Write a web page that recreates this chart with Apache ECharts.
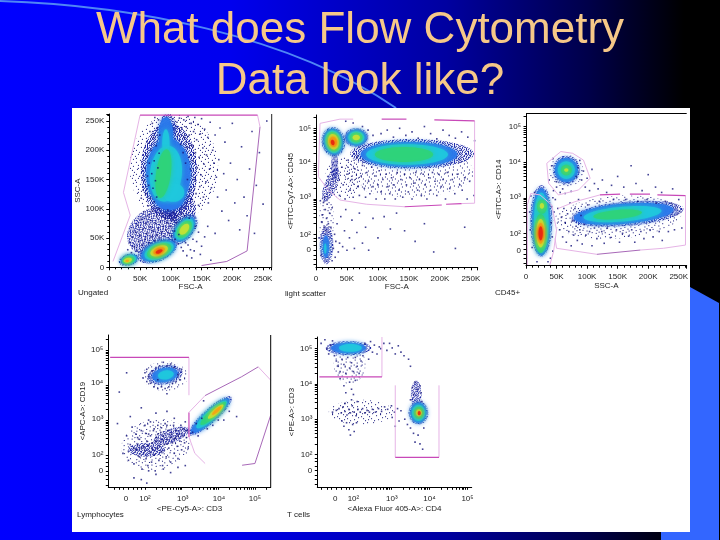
<!DOCTYPE html>
<html><head><meta charset="utf-8">
<style>html,body{margin:0;padding:0;background:#000}#c{width:720px;height:540px}#c canvas{filter:blur(.45px)}</style>
<script src="https://cdn.jsdelivr.net/npm/echarts@6/dist/echarts.min.js"></script>
</head><body><div id="c"></div>
<script>
const titleText = "What does Flow Cytometry\nData look like?";
const captions = ["Ungated","light scatter","CD45+","Lymphocytes","T cells"];
const xNames = ["FSC-A","FSC-A","SSC-A","<PE-Cy5-A>: CD3","<Alexa Fluor 405-A>: CD4"];
const yNames = ["SSC-A","<FITC-Cy7-A>: CD45","<FITC-A>: CD14","<APC-A>: CD19","<PE-A>: CD3"];
const linLabels = {0:"0",50:"50K",100:"100K",150:"150K",200:"200K",250:"250K"};

// density rows: x, y, rx, ry (axis units), tilt in degrees, colour level (7 sparse events, 0 dense events, 1-6 blue to red)
const p1Density = [
 [105,170,72,92,0,7],[72,62,46,38,-35,0],
 [97,165,46,82,0,0],[95,238,14,24,0,0],[115,100,26,26,0,0],
 [96,160,36,60,0,1],[98,118,24,20,0,1],[92,225,12,32,0,1],
 [92,160,26,48,6,2],[104,128,18,16,0,2],[92,212,6,24,0,2],
 [88,160,12,42,8,3],
 [122,65,16,30,38,0],[122,65,13,25,38,1],[122,65,11,21,38,2],[122,65,9,17,38,3],[122,65,6,11,38,4],
 [78,28,34,18,-22,0],[80,28,30,15,-22,1],[81,28,25,13,-22,2],[81,28,21,11,-22,3],[81,28,15,8,-22,4],[81,28,10,5.5,-22,5],[81,27,6,3,-22,6],
 [32,13,17,10,-14,0],[32,13,14,8.5,-14,1],[32,13,12,7.5,-14,2],[31,12,10,6,-14,3],[30,12,7,4,-14,4],[29,11,3,2,-14,5]
];
const p2Density = [
 [150,3.75,105,.7,0,7],[45,3.6,30,.6,0,7],[17,2.4,12,.8,0,7],
 [17,1.7,11,.55,0,0],[24,3.4,10,.5,22,0],[30,3.95,6,.4,0,0],
 [28,4.62,19,.42,-10,0],[28,4.62,16,.37,-10,1],[28,4.62,13,.32,-10,2],[28,4.62,11,.28,-10,3],[28,4.62,8.5,.22,-10,4],[28,4.62,6,.15,-10,5],[27,4.6,3,.08,-10,6],
 [65,4.74,20,.27,0,0],[65,4.74,17,.23,0,1],[65,4.74,13,.18,0,2],[65,4.74,10,.14,0,3],[65,4.74,6,.08,0,4],
 [155,4.28,100,.42,0,0],[150,4.26,78,.35,0,1],[147,4.26,66,.29,0,2],[142,4.26,47,.21,0,3],
 [16,1.65,5,.32,0,1],[15,1.6,2,.15,0,2]
];
const p3Density = [
 [150,2.45,105,.6,-4,7],[66,3.75,28,.45,0,7],
 [25,2.35,18,1.0,0,0],[25,2.32,15,.95,0,1],[25,2.3,12,.85,0,2],[24,2.0,10,.55,0,3],[26,2.75,8,.2,0,3],[24,2.0,7,.4,0,4],[24,2.0,5,.3,0,5],[24,2.0,3.5,.2,0,6],[26,2.77,3.5,.08,0,4],
 [66,3.78,22,.4,0,0],[66,3.78,19,.34,0,1],[66,3.78,14,.25,0,2],[66,3.78,9,.15,0,3],[66,3.78,3.5,.05,0,4],
 [166,2.55,92,.34,-5,0],[160,2.55,82,.28,-5,1],[158,2.54,64,.21,-5,2],[150,2.53,40,.13,-5,3]
];
const p4Density = [
 [2.3,2.3,.95,.72,-10,7],[2.55,4.25,.62,.42,0,7],
 [2.72,2.55,.52,.2,-20,0],[2.05,2.15,.5,.2,0,0],
 [2.55,4.29,.48,.27,-10,0],[2.55,4.29,.36,.2,-10,1],[2.57,4.29,.22,.13,-10,2],
 [3.78,3.12,.78,.2,-42,0],[3.78,3.12,.7,.17,-42,1],[3.82,3.16,.55,.14,-42,2],[3.86,3.19,.46,.11,-42,3],[3.93,3.24,.28,.075,-42,4],[3.96,3.27,.17,.045,-42,5]
];
const p5Density = [
 [1.9,4.55,.42,.55,0,7],[2.2,3.2,.85,.35,0,7],
 [1.87,5.02,.6,.2,0,0],[1.87,5.02,.46,.15,0,1],[1.92,5.02,.3,.11,0,2],
 [3.65,3.68,.14,.42,0,0],
 [3.71,3.18,.26,.33,0,0],[3.71,3.18,.21,.29,0,1],[3.71,3.18,.17,.23,0,2],[3.72,3.18,.13,.17,0,3],[3.72,3.18,.08,.1,0,4],[3.73,3.17,.04,.06,0,6]
];

// scattered events
const p1Dots = [[30,30],[33,42],[36,25],[38,52],[41,35],[43,60],[45,28],[46,72],[48,44],[50,55],[52,82],[53,38],[55,66],[56,95],[58,48],[59,75],[61,58],[62,88],[63,105],[65,42],[66,68],[67,80],[69,52],[70,96],[71,62],[73,112],[74,46],[75,75],[77,88],[78,55],[79,66],[81,100],[82,50],[83,78],[85,60],[86,92],[88,70],[89,53],[91,84],[92,64],[94,76],[95,98],[97,58],[98,88],[100,70],[101,54],[103,82],[104,94],[106,62],[107,48],[109,76],[110,88],[112,40],[113,56],[115,100],[117,34],[118,92],[120,28],[122,88],[124,42],[126,20],[128,38],[130,84],[132,30],[134,16],[136,48],[138,28],[140,70],[142,44],[145,60],[148,22],[150,36],[155,52],[160,70],[165,12],[172,58],
 [52,118],[55,132],[57,148],[58,170],[60,126],[61,190],[62,156],[63,212],[64,140],[65,178],[66,232],[67,118],[68,200],[69,160],[70,246],[71,135],[72,222],[73,182],[74,256],[75,148],[76,208],[77,120],[78,238],[79,170],[80,252],[81,195],[82,226],[110,248],[112,226],[114,255],[116,210],[118,238],[120,196],[121,252],[122,222],[124,178],[125,240],[126,205],[127,150],[128,258],[129,188],[130,226],[131,132],[132,168],[133,246],[134,208],[135,116],[136,182],[137,232],[138,150],[139,256],[140,196],[141,126],[142,218],[143,170],[144,244],[145,106],[146,188],[147,138],[148,228],[149,158],[150,254],[152,204],[153,120],[154,176],[155,236],[157,146],[158,192],[160,222],[161,110],[163,168],[164,248],[166,136],[168,200],[170,178],[172,226],[174,154],[176,120],[178,184],[180,238],[183,96],[186,160],[188,214],[190,132],[194,80],[197,178],[200,246],[204,110],[208,150],[212,64],[215,206],[219,120],[224,88],[228,168],[232,232],[236,58],[239,140],[244,196],[250,108],[256,250]];
const p2Dots = [[12,2.9],[14,3.05],[15,2.7],[17,2.45],[18,2.85],[20,2.3],[10,2.55],[13,2.2],[16,2.1],[9,2.35],[22,2.6],[24,2.2],[26,2.75],[28,1.6],[30,2.0],[32,1.8],[34,2.3],[36,1.5],[38,1.75],[40,2.5],[43,1.65],[46,2.1],[48,2.7],[50,1.55],[54,1.9],[58,2.4],[62,1.6],[66,2.05],[70,2.6],[75,1.75],[80,2.2],[85,1.55],[92,2.45],[100,1.9],[110,2.5],[120,2.15],[130,2.6],[143,2.1],[160,1.8],[175,2.3],[190,1.5],[225,1.6],[240,2.2],
 [38,3.1],[42,3.9],[44,3.4],[47,3.0],[50,3.7],[52,4.1],[55,3.25],[58,3.55],[60,3.05],[63,3.85],[66,4.2],[68,3.35],[70,3.1],[73,3.65],[75,3.95],[78,3.3],[80,3.05],[82,3.75],[85,3.5],[87,3.15],[90,3.9],[92,3.35],[95,3.65],[97,3.0],[100,3.4],[102,3.8],[105,3.2],[108,3.55],[111,3.0],[113,3.7],[116,3.35],[119,3.15],[122,3.6],[125,3.4],[128,3.0],[131,3.75],[134,3.25],[137,3.55],[140,3.05],[143,3.7],[146,3.4],[149,3.2],[152,3.6],[155,3.0],[158,3.45],[161,3.75],[164,3.25],[167,3.55],[170,3.1],[173,3.7],[176,3.4],[179,3.0],[182,3.6],[185,3.25],[188,3.75],[192,3.5],[195,3.1],[198,3.7],[202,3.35],[205,3.55],[209,3.0],[212,3.75],[216,3.3],[220,3.55],[224,3.15],[228,3.7],[232,3.4],[236,3.25],[240,3.6],[244,3.0],[248,3.5],
 [105,4.85],[115,4.95],[125,4.75],[135,5.0],[145,4.8],[155,4.9],[165,4.72],[175,5.05],[185,4.85],[195,4.7],[205,4.95],[215,4.8],[225,4.72],[235,4.9],[245,4.75],[92,4.8],[84,4.95],[60,5.15],[48,5.2],[75,5.05],[255,3.1],[256,4.65],[7,2.95],[5,1.9],[8,1.4],[26,1.25],[31,1.35]];
const p3Dots = [[55,2.1],[58,2.45],[60,1.9],[62,2.7],[64,2.3],[66,1.75],[68,2.55],[70,2.05],[72,2.85],[74,1.65],[76,2.35],[78,1.95],[80,2.7],[82,2.2],[84,1.8],[86,2.95],[88,2.1],[90,2.5],[92,1.7],[95,2.25],[98,1.95],[101,2.8],[104,2.05],[108,1.65],[112,2.15],[116,1.85],[120,2.9],[124,2.05],[128,1.72],[133,2.15],[138,1.88],[143,2.95],[148,2.1],[153,1.75],[158,2.0],[163,2.95],[168,1.92],[173,2.1],[178,1.75],[183,2.9],[188,2.05],[193,1.85],[198,2.95],[203,2.1],[208,1.9],[213,2.85],[218,2.05],[223,1.8],[228,2.9],[233,2.05],[238,2.85],[243,2.1],[250,2.95],[255,2.15],
 [45,3.2],[48,2.95],[50,3.45],[52,2.7],[44,3.0],[46,2.6],[42,2.75],[41,2.3],[43,1.9],[44,1.5],[40,1.3],[36,1.2],[18,1.2],[10,1.6],[7,2.1],[6,2.6],[8,3.05],[14,3.15],
 [82,3.6],[85,3.85],[88,4.05],[91,3.5],[94,3.75],[97,3.3],[100,3.55],[104,3.2],[108,3.8],[112,3.4],[118,3.25],[125,3.5],[132,3.15],[140,3.35],[150,3.6],[160,3.3],[172,3.9],[180,3.4],[190,3.2],[200,3.65],[212,3.3],[222,3.15],[240,3.25],[38,3.5],[42,3.9],[44,4.1],[50,3.3],[56,3.15],[60,3.25],[64,3.12],[74,3.18]];
const p4Dots = [[1.25,2.9],[1.4,2.05],[1.5,2.55],[1.55,1.85],[1.6,2.3],[1.65,2.8],[1.7,1.75],[1.75,2.15],[1.8,2.5],[1.85,1.95],[1.9,2.7],[1.92,1.6],[1.95,2.25],[2.0,2.85],[2.03,1.9],[2.05,2.4],[2.08,1.7],[2.1,2.6],[2.13,2.1],[2.15,2.95],[2.18,1.8],[2.2,2.35],[2.23,2.7],[2.25,2.0],[2.28,1.55],[2.3,2.5],[2.33,2.2],[2.35,2.85],[2.38,1.85],[2.4,2.4],[2.43,2.65],[2.45,2.1],[2.48,1.7],[2.5,2.55],[2.53,2.3],[2.55,2.9],[2.58,1.95],[2.6,2.45],[2.63,2.7],[2.65,2.2],[2.7,1.8],[2.72,2.6],[2.75,2.35],[2.78,2.85],[2.8,2.05],[2.83,2.5],[2.85,2.7],[2.88,2.25],[2.9,1.9],[2.93,2.6],[2.95,2.4],[2.98,2.85],[3.0,2.15],[3.03,2.55],[3.05,2.75],[3.08,2.35],[3.1,2.95],[3.13,2.5],[3.15,2.7],[3.18,2.2],
 [1.7,2.2],[1.8,2.3],[1.9,2.2],[2.0,2.12],[2.1,2.28],[2.2,2.18],[2.3,2.4],[2.4,2.25],[2.5,2.42],[2.6,2.32],[2.7,2.5],[2.8,2.45],[2.9,2.55],[1.75,2.6],[1.85,2.45],[2.02,2.62],[2.15,2.55],[2.25,2.75],[2.35,2.6],[2.45,2.78],[2.6,2.85],
 [1.9,1.3],[2.1,1.55],[2.3,1.45],[2.5,1.6],[2.7,1.5],[2.05,1.2],[1.7,1.35],[2.9,1.65],[3.1,1.7],[1.6,3.1],[1.9,3.35],[2.1,3.0],[2.3,3.2],[2.6,3.25],[2.8,3.05],[1.3,3.8],[1.5,4.35],
 [1.95,4.2],[2.0,4.35],[2.05,4.1],[2.1,4.25],[2.15,4.05],[2.2,4.4],[2.25,3.95],[2.3,4.5],[2.35,3.9],[2.4,4.55],[2.45,3.95],[2.5,4.65],[2.55,3.9],[2.6,4.55],[2.65,3.95],[2.7,4.6],[2.75,4.05],[2.8,4.5],[2.85,4.1],[2.9,4.3],[2.95,4.15],[3.0,4.45],[2.05,4.45],[2.35,4.15],[2.6,3.75],
 [3.3,2.65],[3.4,2.9],[3.45,2.55],[3.55,3.05],[3.6,3.55],[3.7,2.75],[3.85,2.85],[4.0,3.0],[4.15,3.0],[4.3,3.25],[4.5,3.1]];
const p5Dots = [[1.15,5.15],[1.25,5.25],[1.3,5.0],[1.35,4.85],[1.4,5.1],[1.45,5.22],[1.5,4.8],[1.55,4.65],[1.6,4.5],[1.65,4.35],[1.7,4.7],[1.75,4.55],[1.8,4.3],[1.85,4.75],[1.9,4.45],[1.95,4.6],[2.0,4.35],[2.05,4.75],[2.1,4.5],[2.15,4.3],[2.2,4.65],[2.25,4.8],[2.3,5.15],[2.4,4.7],[2.45,5.2],[2.5,4.9],[2.55,5.1],[2.62,4.85],[2.68,5.05],[2.72,5.0],[2.8,5.15],[2.88,4.95],[2.95,5.15],[3.02,5.02],[3.1,4.85],[3.18,5.08],[3.25,4.9],[3.33,4.8],[3.45,4.7],[3.5,4.5],
 [1.65,4.15],[1.75,3.95],[1.8,3.75],[1.9,4.05],[1.95,3.85],[2.0,3.7],[2.05,4.1],
 [1.45,3.2],[1.55,3.25],[1.62,3.3],[1.68,3.18],[1.73,3.35],[1.78,3.22],[1.83,3.12],[1.88,3.28],[1.92,3.18],[1.97,3.38],[2.02,3.2],[2.07,3.1],[2.12,3.28],[2.18,3.2],[2.24,3.3],[2.3,3.18],[2.36,3.25],[2.42,3.2],[2.5,3.28],[2.58,3.2],[2.66,3.3],[2.74,3.22],[2.82,3.35],[2.9,3.28],[3.0,3.38],[3.08,3.2],[3.16,3.3],[3.25,3.24],
 [1.7,2.95],[1.75,2.8],[1.82,2.9],[1.88,2.7],[1.92,2.55],[1.98,2.85],[2.02,2.65],[2.08,2.9],[1.78,3.45],[1.95,3.55],[2.1,3.5],
 [3.02,3.05],[3.1,2.8],[3.2,2.95],[3.35,3.0],[3.42,2.85],[3.5,2.75],[3.58,2.6],[3.62,2.35],[3.75,2.3],[3.82,2.15],[3.7,2.55],[3.85,2.75],[3.55,3.9],[3.62,4.05],[3.68,3.85],[3.75,3.95],[3.58,3.7],[3.78,3.75],[3.5,3.55],[3.8,3.5]];

// gates: strong, mid and pale segments
const p1GateStrong = [[[50,260],[241,260]]];
const p1GateMid = [[[150,3],[191,10],[224,28],[245,240]]];
const p1GatePale = [[[241,260],[245,240]],[[50,260],[23,128],[34,89],[6,10]]];
const p2GateStrong = [[[106,5.26],[146,5.26]],[[191,5.24],[256,5.21]],[[143,2.78],[203,2.83]],[[210,2.85],[235,2.87]]];
const p2GateMid = [];
const p2GatePale = [[[6.5,5.14],[38.7,5.26],[60,5.26]],[[256,5.21],[256,2.88],[235,2.87]],[[143,2.78],[82,2.85],[38.7,2.97],[20,3.25],[3.8,3.63],[6.5,5.14]]];
const p3GateStrong = [[[121,3.08],[154,3.10]],[[170,3.1],[203,3.1]],[[215,3.08],[261,3.06]]];
const p3GateMid = [[[187,1.53],[116,1.41]]];
const p3GatePale = [[[2.2,1.11],[2.2,2.8],[7.7,3.12],[23,3.08],[42,2.8],[50,2.09],[45,1.48],[39,1.11]],[[34,3.97],[57,4.3],[76.5,4.25],[94,4.06],[105,3.55],[86,3.22],[53,3.08],[37,3.41],[34,3.97]],[[53,2.7],[80,2.89],[121,3.08]],[[261,3.06],[261,1.67],[225,1.58],[187,1.53]],[[116,1.41],[50,1.58],[47.5,1.86]]];
const p4GateStrong = [[[1.05,4.79],[3.2,4.79]],[[3.2,3.22],[3.2,2.52]]];
const p4GateMid = [[[3.64,3.7],[4.64,4.24],[5.09,4.52]],[[5.43,3.14],[5,1.76],[4.65,1.71]]];
const p4GatePale = [[[3.2,4.79],[3.2,3.71]],[[3.2,2.52],[3.36,2.05],[3.64,1.76]],[[3.2,3.22],[3.64,3.7]],[[5.09,4.52],[5.43,4.14]]];
const p5GateStrong = [[[1.105,4.2],[2.75,4.2]],[[3.1,1.92],[4.25,1.92]]];
const p5GateMid = [];
const p5GatePale = [[[2.75,5.33],[2.75,4.2]],[[3.1,3.96],[3.1,1.92]],[[4.25,3.96],[4.25,1.92]]];

// biexponential tick labels (axis position, text)
const p2YLabels = [[1.55,"0"],[2,"10²"],[3.05,"10³"],[4.05,"10⁴"],[5,"10⁵"]];
const p3YLabels = [[1.52,"0"],[2,"10²"],[3.03,"10³"],[4.01,"10⁴"],[5,"10⁵"]];
const p4XLabels = [[1.48,"0"],[2,"10²"],[3.03,"10³"],[4.02,"10⁴"],[5,"10⁵"]];
const p4YLabels = [[1.55,"0"],[2,"10²"],[3.05,"10³"],[4.07,"10⁴"],[5,"10⁵"]];
const p5XLabels = [[1.52,"0"],[2,"10²"],[3.01,"10³"],[4.0,"10⁴"],[5,"10⁵"]];
const p5YLabels = [[1.53,"0"],[2,"10²"],[3.0,"10³"],[4.0,"10⁴"],[5,"10⁵"]];
const decadeSteps = [0,.3,.48,.6,.7,.78,.85,.9,.95];
const belowTicks = [1.15,1.3,1.42,1.55,1.68,1.8,1.9];

// speckle textures for low-density zones
const denseTile = ["#.#..##.#..#.#.#",".#..#..#.##...#.","#..##.#...#.##..",".##...#.##..#..#","#..#.#..#..##.#.",".#.#..##..#...##","#...##..#.#.##..",".##.#.#...#...#.","#..#...##.#.#..#","..#.##.#..##..#.","#.#...#..#...#.#",".#..#.#.#..##...","##.#..#...#..#.#","..#..#.##.#.#.#.","#.#.#...#..#..#.",".#...##.#.#..#.#"];
const sparseTile = ["....#.......#...........",".#.........#.......#....","......#............#....","...............#........","#.......#...............",".....................#..","..#.......#.............",".......#.........#......","....#........#..........","....................#...","......#.....#...........","..#.............#.......",".........#..............","....#................#..",".#........#......#......",".......#................","..............#.........","...#....................","..........#.........#...",".....#..........#.......","........................","#...........#.......#...",".......#................","...............#........"];
function tile(rows,color){
  const c=document.createElement("canvas");c.width=c.height=rows.length;
  const g=c.getContext("2d");g.fillStyle=color;
  rows.forEach((r,y)=>[...r].forEach((ch,x)=>{if(ch==="#")g.fillRect(x,y,1,1);}));
  return {image:c,repeat:"repeat"};
}
const levelColors = [tile(denseTile,"#1a22a4"),"#2a78ea","#1fc8dc","#2fd27a","#c6e234","#f5a312","#e62410",tile(sparseTile,"#14147a")];
const inkDots = "#14147a", gateStrong = "#c848b8", gateMid = "#a868b8", gatePale = "#e6b4e6";

const panels = [
 {box:[109.3,114,271.7,267.3],x:[0,264,"lin"],y:[0,262,"lin"],density:p1Density,dots:p1Dots,strong:p1GateStrong,mid:p1GateMid,pale:p1GatePale},
 {box:[316,115,477.7,267.3],x:[0,261,"lin"],y:[1.066,5.377,p2YLabels],density:p2Density,dots:p2Dots,strong:p2GateStrong,mid:p2GateMid,pale:p2GatePale},
 {box:[526,113.5,686.7,265.7],x:[0,263,"lin"],y:[1.09,5.37,p3YLabels],density:p3Density,dots:p3Dots,strong:p3GateStrong,mid:p3GateMid,pale:p3GatePale},
 {box:[108.3,335,270.7,487.3],x:[1,5.43,p4XLabels],y:[1.08,5.43,p4YLabels],density:p4Density,dots:p4Dots,strong:p4GateStrong,mid:p4GateMid,pale:p4GatePale},
 {box:[317.3,337,471.7,487.3],x:[1.05,5.11,p5XLabels],y:[1.07,5.33,p5YLabels],density:p5Density,dots:p5Dots,strong:p5GateStrong,mid:p5GateMid,pale:p5GatePale}
];
const nameGapX=[15,15,15,17,17], nameGapY=[27,20,23,20,21];
const captionPos=[[78,293],[285,294],[495,293],[77,515],[287,515]];

function logTicks(min,max){
  const out=belowTicks.filter(v=>v>=min&&v<=max);
  for(let d=2;d<=5;d++) decadeSteps.forEach(s=>{const v=d+s; if(v<=max) out.push(v);});
  return out;
}
function axis(spec,idx,name,gap,isX){
  const [min,max,kind]=spec;
  const base={gridIndex:idx,type:"value",min,max,name,nameLocation:"middle",nameGap:gap,
    nameTextStyle:{fontFamily:"Liberation Sans",fontSize:8,color:"#222"},
    splitLine:{show:false},
    axisLine:{show:true,onZero:false,lineStyle:{color:"#000",width:1}},
    axisLabel:{fontFamily:"Liberation Sans",fontSize:8,color:"#222",margin:isX?7:5,showMinLabel:true,showMaxLabel:true}};
  if(kind==="lin"){
    base.interval=50;
    base.axisLabel.formatter=v=>linLabels[v]||"";
    base.axisTick={show:true,length:3,lineStyle:{color:"#000"}};
    base.minorTick={show:true,splitNumber:5,length:2,lineStyle:{color:"#000"}};
  }else{
    const map={}; kind.forEach(k=>map[k[0]]=k[1]);
    base.axisLabel.customValues=kind.map(k=>k[0]);
    base.axisLabel.formatter=v=>map[v]||"";
    base.axisTick={show:true,length:2.5,customValues:logTicks(min,max),lineStyle:{color:"#000"}};
  }
  return base;
}
function densitySeries(rows,i){
  return {type:"custom",xAxisIndex:i,yAxisIndex:i,data:rows,silent:true,z:2,
    encode:{x:0,y:1},
    renderItem:(p,api)=>{
      const c=api.coord([api.value(0),api.value(1)]);
      const s=api.size([api.value(2),api.value(3)]);
      const lv=api.value(5);
      const speck=(lv===0||lv===7);
      return {type:"ellipse",x:c[0],y:c[1],rotation:-api.value(4)*Math.PI/180,
        shape:{cx:0,cy:0,rx:s[0],ry:s[1]},
        style:speck?{fill:levelColors[lv]}:{fill:levelColors[lv],opacity:.92,shadowBlur:5,shadowColor:levelColors[lv]}};
    }};
}
const grids=[],xs=[],ys=[],series=[];
function gateLines(list,i,color,width){
  list.forEach(seg=>series.push({type:"line",xAxisIndex:i,yAxisIndex:i,data:seg,showSymbol:false,silent:true,z:4,clip:false,
    lineStyle:{color,width}}));
}
panels.forEach((p,i)=>{
  grids.push({left:p.box[0],top:p.box[1],width:p.box[2]-p.box[0],height:p.box[3]-p.box[1]});
  xs.push(axis(p.x,i,xNames[i],nameGapX[i],true));
  ys.push(axis(p.y,i,yNames[i],nameGapY[i],false));
  series.push(densitySeries(p.density,i));
  series.push({type:"scatter",xAxisIndex:i,yAxisIndex:i,data:p.dots,symbol:"rect",symbolSize:1.6,silent:true,z:3,
    itemStyle:{color:inkDots}});
  gateLines(p.pale,i,gatePale,1);
  gateLines(p.mid,i,gateMid,1);
  gateLines(p.strong,i,gateStrong,1.2);
});
const decor=[
 {type:"bezierCurve",z:-20,shape:{x1:0,y1:1,cpx1:130,cpy1:5,cpx2:290,cpy2:35,x2:396,y2:108},style:{stroke:"#4f86f5",lineWidth:2,fill:null}},
 {type:"polygon",z:-15,shape:{points:[[690,287],[719,303],[719,540],[661,540],[661,532],[690,532]]},style:{fill:"#3366ff"}},
 {type:"rect",z:-10,shape:{x:72,y:108,width:618,height:424},style:{fill:"#fff"}},
 {type:"line",z:5,shape:{x1:271.7,y1:114,x2:271.7,y2:267.3},style:{stroke:"#222",lineWidth:1}},
 {type:"line",z:5,shape:{x1:526,y1:113.5,x2:686.7,y2:113.5},style:{stroke:"#000",lineWidth:1}},
 {type:"line",z:5,shape:{x1:270.7,y1:335,x2:270.7,y2:487.3},style:{stroke:"#000",lineWidth:1}}
];
captions.forEach((t,i)=>decor.push({type:"text",z:5,x:captionPos[i][0],y:captionPos[i][1],
  style:{text:t,fontFamily:"Liberation Sans",fontSize:8,fill:"#222",verticalAlign:"middle"}}));
const chart=echarts.init(document.getElementById("c"),null,{renderer:"canvas"});
chart.setOption({
  animation:false,
  backgroundColor:{type:"linear",x:0,y:0,x2:1,y2:0,colorStops:[
    {offset:0,color:"#0000ff"},{offset:.32,color:"#0000ee"},{offset:.62,color:"#0000a0"},{offset:.82,color:"#000048"},{offset:.95,color:"#000000"},{offset:1,color:"#000000"}]},
  title:{text:titleText,left:360,top:5,textAlign:"center",padding:0,
    textStyle:{fontFamily:"Liberation Sans",fontWeight:"normal",fontSize:44,lineHeight:51,color:"#f6c888",align:"center"}},
  graphic:{elements:decor},
  grid:grids,xAxis:xs,yAxis:ys,series
});
</script></body></html>
